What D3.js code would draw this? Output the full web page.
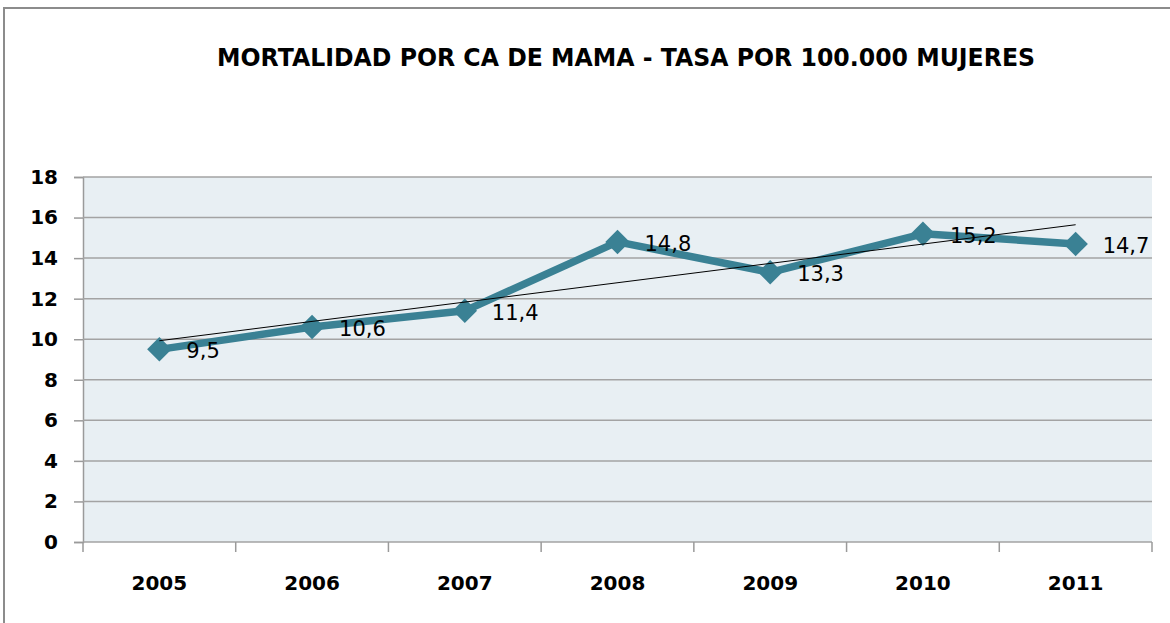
<!DOCTYPE html>
<html>
<head>
<meta charset="utf-8">
<script src="https://cdn.jsdelivr.net/npm/d3@7"></script>
<style>
  body { margin: 0; background: #fff; }
  svg { display: block; }
</style>
</head>
<body>
<svg id="chart"></svg>
<script>
// datos
const years = ['2005', '2006', '2007', '2008', '2009', '2010', '2011'];
const rates = [9.5, 10.6, 11.4, 14.8, 13.3, 15.2, 14.7];
const yTicks = [0, 2, 4, 6, 8, 10, 12, 14, 16, 18];
const title = 'MORTALIDAD POR CA DE MAMA - TASA POR 100.000 MUJERES';

const width = 1170;
const height = 623;
const plot = { left: 83, right: 1152, top: 177, bottom: 542 };

const svg = d3.select('#chart')
  .attr('width', width)
  .attr('height', height);

// borde exterior
svg.append('rect')
  .attr('x', 4).attr('y', 8)
  .attr('width', 1200).attr('height', 700)
  .attr('fill', 'none')
  .attr('stroke', '#8c8c8c')
  .attr('stroke-width', 2);

svg.append('text')
  .attr('x', 626).attr('y', 57)
  .attr('text-anchor', 'middle')
  .attr('dominant-baseline', 'central')
  .attr('font-family', 'DejaVu Sans')
  .attr('font-weight', 'bold')
  .attr('font-size', 25)
  .attr('textLength', 818)
  .attr('lengthAdjust', 'spacingAndGlyphs')
  .attr('fill', '#000')
  .text(title);

const x = d3.scaleBand()
  .domain(years)
  .range([plot.left, plot.right])
  .padding(0);

const y = d3.scaleLinear()
  .domain([0, 18])
  .range([plot.bottom, plot.top]);

// fondo del area
svg.append('rect')
  .attr('x', plot.left).attr('y', plot.top)
  .attr('width', plot.right - plot.left)
  .attr('height', plot.bottom - plot.top)
  .attr('fill', '#e8eff3');

// eje y con lineas de cuadricula
const yAxis = svg.append('g')
  .attr('transform', `translate(${plot.left},0)`)
  .call(d3.axisLeft(y).tickValues(yTicks).tickSize(9).tickPadding(16).tickFormat(d3.format('d')));
yAxis.select('.domain').attr('stroke', '#9a9a9a').attr('stroke-width', 1.5);
yAxis.selectAll('.tick line').attr('stroke', '#9a9a9a').attr('stroke-width', 1.5);
yAxis.selectAll('.tick text')
  .attr('font-family', 'DejaVu Sans')
  .attr('font-weight', 'bold')
  .attr('font-size', 20)
  .attr('fill', '#000');

svg.append('g')
  .selectAll('line')
  .data(yTicks)
  .enter()
  .append('line')
  .attr('x1', plot.left)
  .attr('x2', plot.right)
  .attr('y1', d => y(d))
  .attr('y2', d => y(d))
  .attr('stroke', '#a3a3a3')
  .attr('stroke-width', 1.5);

// eje x
const xAxis = svg.append('g')
  .attr('transform', `translate(0,${plot.bottom})`)
  .call(d3.axisBottom(x).tickSize(0).tickPadding(34));
xAxis.select('.domain').remove();
xAxis.selectAll('.tick text')
  .attr('font-family', 'DejaVu Sans')
  .attr('font-weight', 'bold')
  .attr('font-size', 20)
  .attr('fill', '#000');

const bounds = years.map(d => x(d)).concat([x.range()[1]]);
svg.append('g')
  .selectAll('line')
  .data(bounds)
  .enter()
  .append('line')
  .attr('x1', d => d).attr('x2', d => d)
  .attr('y1', plot.bottom).attr('y2', plot.bottom + 10)
  .attr('stroke', '#9a9a9a')
  .attr('stroke-width', 1.5);

const cx = d => x(d) + x.bandwidth() / 2;

// serie
const line = d3.line()
  .x((d, i) => cx(years[i]))
  .y(d => y(d));

svg.append('path')
  .datum(rates)
  .attr('d', line)
  .attr('fill', 'none')
  .attr('stroke', '#3a8194')
  .attr('stroke-width', 7.5)
  .attr('stroke-linejoin', 'round');

svg.append('g')
  .selectAll('path')
  .data(rates)
  .enter()
  .append('path')
  .attr('d', d3.symbol(d3.symbolSquare, 300))
  .attr('transform', (d, i) => `translate(${cx(years[i])},${y(d)}) rotate(45)`)
  .attr('fill', '#3a8194');

// linea de tendencia (regresion lineal)
const n = rates.length;
const mx = d3.mean(rates, (d, i) => i);
const my = d3.mean(rates);
const slope = d3.sum(rates, (d, i) => (i - mx) * (d - my)) / d3.sum(rates, (d, i) => (i - mx) * (i - mx));
const b = my - slope * mx;
svg.append('line')
  .attr('x1', cx(years[0])).attr('y1', y(b))
  .attr('x2', cx(years[n - 1])).attr('y2', y(b + slope * (n - 1)))
  .attr('stroke', '#000')
  .attr('stroke-width', 1);

// etiquetas
svg.append('g')
  .selectAll('text')
  .data(rates)
  .enter()
  .append('text')
  .attr('x', (d, i) => cx(years[i]) + 27)
  .attr('y', d => y(d) + 2)
  .attr('dominant-baseline', 'central')
  .attr('font-family', 'DejaVu Sans')
  .attr('font-size', 21)
  .attr('fill', '#000')
  .text(d => d3.format('.1f')(d).replace('.', ','));
</script>
</body>
</html>
